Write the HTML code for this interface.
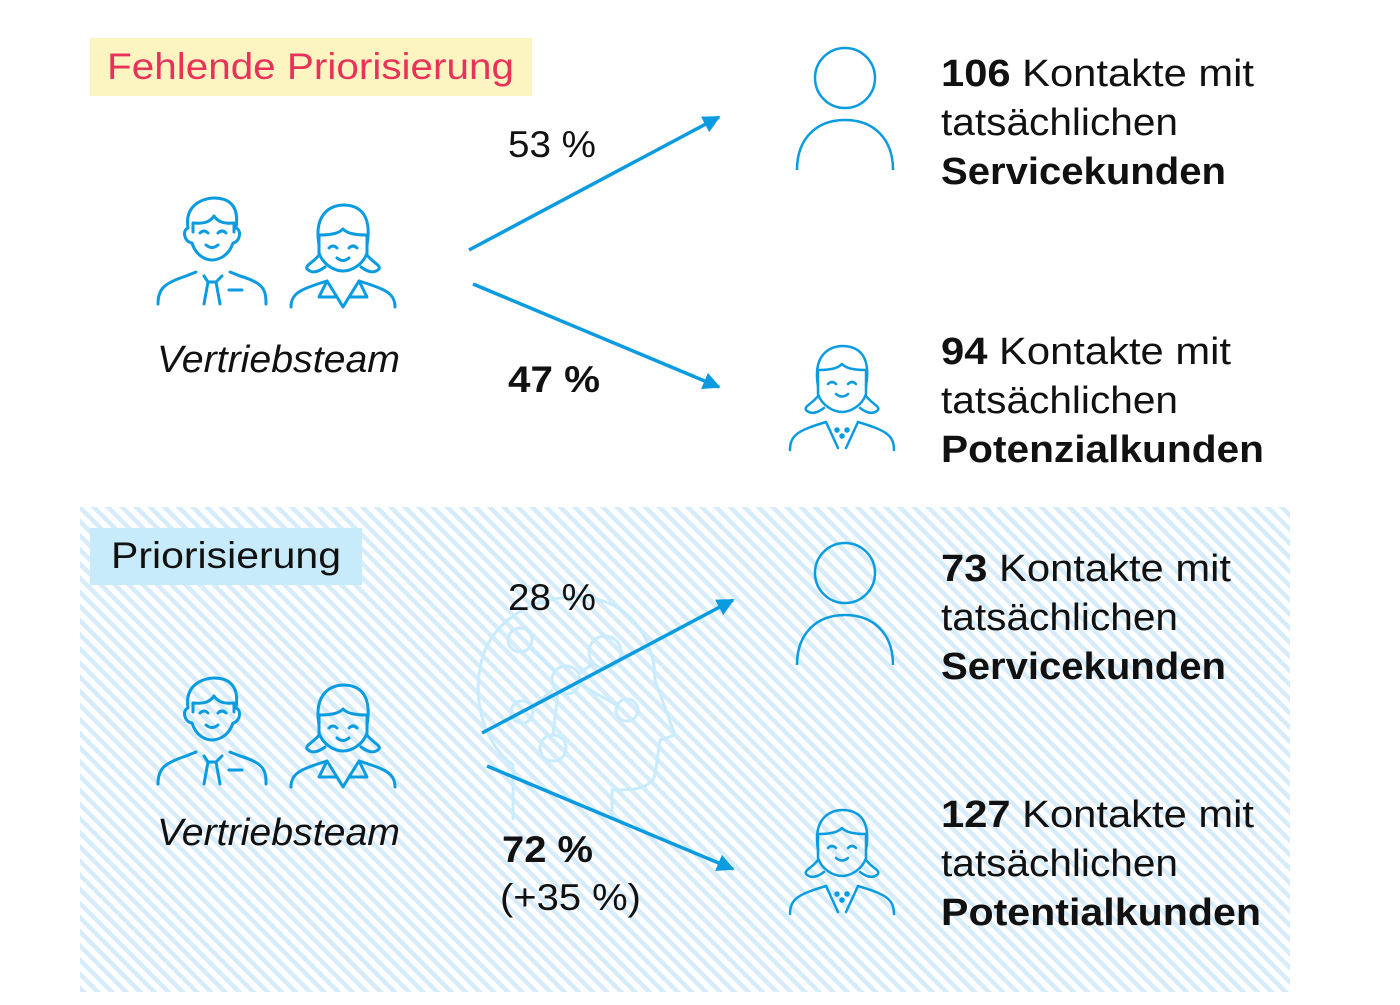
<!DOCTYPE html>
<html><head><meta charset="utf-8"><style>
body{margin:0;width:1400px;height:1000px;background:#fff;overflow:hidden;font-family:"Liberation Sans","DejaVu Sans",sans-serif;}
</style></head><body>
<svg width="1400" height="1000" viewBox="0 0 1400 1000" xmlns="http://www.w3.org/2000/svg">
<defs>
<pattern id="st" width="10" height="10" patternUnits="userSpaceOnUse" patternTransform="rotate(45)">
<rect width="10" height="10" fill="#fff"/><rect width="10" height="4.5" fill="#d6ecfa"/>
</pattern>
<g id="man" fill="none" stroke="#0a9be0" stroke-width="3" stroke-linecap="round" stroke-linejoin="round">
<path d="M12,30 C8,5 30,0 38,0 C50,0 64,5 60,30 C66,32 64,44 57,45 C52,60 40,62 36,62 C30,62 20,58 16,45 C8,44 6,32 12,30Z"/>
<path d="M17,34 L17,25 C28,26 34,24 38,18 C42,24 48,26 58,25 L58,34"/>
<path d="M24,35 q4,-4 8,0 M42,35 q4,-4 8,0 M30,47 q6,5 12,0"/>
<path d="M-18,106 C-18,90 -11,85 10,78 L20,74 M54,74 L64,78 C88,85 90,92 90,106"/>
<path d="M28,78 L32,84 L28,106 M46,78 L40,84 L44,106 M32,84 L40,84 M53,92 L66,92"/>
</g>
<g id="wom" fill="none" stroke="#0a9be0" stroke-width="3" stroke-linecap="round" stroke-linejoin="round">
<path d="M14,40 C8,5 30,0 38,0 C50,0 68,5 62,40"/>
<path d="M14,30 C28,30 34,28 38,24 C42,28 48,30 62,30"/>
<path d="M14,30 L14,48 C18,60 30,66 38,66 C46,66 58,60 62,48 L62,30"/>
<path d="M14,50 C8,58 0,60 2,64 C6,68 12,68 20,62 M62,50 C68,58 76,60 74,64 C70,68 64,68 56,62"/>
<path d="M24,43 q4,-4 8,0 M44,43 q4,-4 8,0 M32,53 q6,5 12,0"/>
<path d="M-14,102 C-14,88 -4,84 22,76 M54,76 C80,84 90,88 90,102"/>
<path d="M22,76 L32,92 L14,92 Z M54,76 L44,92 L62,92 Z M32,92 L38,102 L44,92"/>
</g>
<g id="wom2" fill="none" stroke="#0a9be0" stroke-width="2.5" stroke-linecap="round" stroke-linejoin="round">
<path d="M14,40 C8,5 30,0 38,0 C50,0 68,5 62,40"/>
<path d="M14,24 C28,24 34,22 38,18 C42,22 48,24 62,24"/>
<path d="M14,24 L14,48 C18,60 30,66 38,66 C46,66 58,60 62,48 L62,24"/>
<path d="M14,50 C8,58 0,60 2,64 C6,68 12,68 20,62 M62,50 C68,58 76,60 74,64 C70,68 64,68 56,62"/>
<path d="M24,38 q4,-4 8,0 M44,38 q4,-4 8,0 M32,48 q6,5 12,0"/>
<path d="M-14,104 C-14,88 -4,84 22,76 M54,76 C80,84 90,88 90,104"/>
<path d="M22,76 L34,102 M54,76 L42,102"/>
<circle cx="33" cy="84" r="1.5" fill="#0a9be0"/><circle cx="43" cy="84" r="1.5" fill="#0a9be0"/><circle cx="38" cy="90" r="1.5" fill="#0a9be0"/>
</g>
<g id="per" fill="none" stroke="#0a9be0" stroke-width="2.5">
<circle cx="48" cy="30" r="30"/>
<path d="M0,122 C0,90 20,72 48,72 C76,72 96,90 96,122"/>
</g>
<marker id="ar" viewBox="0 0 10 10" refX="9" refY="5" markerWidth="5" markerHeight="5" orient="auto"><path d="M0,0 L10,5 L0,10 Z" fill="#0a9be0"/></marker>
</defs>

<rect x="80" y="507" width="1210" height="485" fill="url(#st)"/>

<rect x="90" y="38" width="442" height="58" fill="#fcf5c2"/>
<text x="107" y="79" font-size="37" fill="#e8325a" textLength="407" lengthAdjust="spacingAndGlyphs">Fehlende Priorisierung</text>
<rect x="90" y="528" width="272" height="57" fill="#c7ebfb"/>
<text x="111" y="568" font-size="37" fill="#111" textLength="230" lengthAdjust="spacingAndGlyphs">Priorisierung</text>

<use href="#man" x="176" y="198"/>
<use href="#wom" x="305" y="205"/>
<text x="157" y="372" font-size="38" font-style="italic" fill="#111" textLength="243" lengthAdjust="spacingAndGlyphs">Vertriebsteam</text>
<use href="#man" x="176" y="678"/>
<use href="#wom" x="305" y="685"/>
<text x="157" y="845" font-size="38" font-style="italic" fill="#111" textLength="243" lengthAdjust="spacingAndGlyphs">Vertriebsteam</text>

<g fill="none" stroke="#c8ecfd" stroke-width="3">
<path d="M513,820 L513,765 C480,740 470,690 485,650 C505,605 560,590 600,600 C640,612 655,650 655,680 L675,735 L660,740 L655,775 C650,790 630,790 612,790 L612,820"/>
<circle cx="520" cy="640" r="12"/><circle cx="605" cy="652" r="16"/><circle cx="566" cy="680" r="14"/>
<circle cx="522" cy="712" r="11"/><circle cx="627" cy="710" r="11"/><circle cx="553" cy="748" r="13"/>
<path d="M530,648 L556,672 M593,664 L578,674 M580,684 L618,706 M558,692 L553,735 M530,708 L553,690"/>
</g>

<g stroke="#0a9be0" stroke-width="3.5" fill="none">
<line x1="469" y1="250" x2="719" y2="117" marker-end="url(#ar)"/>
<line x1="473" y1="284" x2="719" y2="387" marker-end="url(#ar)"/>
<line x1="482" y1="733" x2="733" y2="600" marker-end="url(#ar)"/>
<line x1="487" y1="766" x2="733" y2="869" marker-end="url(#ar)"/>
</g>

<g font-size="37" fill="#111" lengthAdjust="spacingAndGlyphs">
<text x="508" y="157" textLength="88" lengthAdjust="spacingAndGlyphs">53 %</text>
<text x="508" y="392" font-weight="bold" textLength="92" lengthAdjust="spacingAndGlyphs">47 %</text>
<text x="508" y="610" textLength="88" lengthAdjust="spacingAndGlyphs">28 %</text>
<text x="502" y="862" font-weight="bold" textLength="91" lengthAdjust="spacingAndGlyphs">72 %</text>
<text x="500" y="910" textLength="141" lengthAdjust="spacingAndGlyphs">(+35 %)</text>
</g>

<use href="#per" x="797" y="48"/>
<use href="#wom2" x="804" y="346"/>
<use href="#per" x="797" y="543"/>
<use href="#wom2" x="804" y="810"/>

<g font-size="38" fill="#111">
<text x="941" y="86" textLength="313" lengthAdjust="spacingAndGlyphs"><tspan font-weight="bold">106</tspan> Kontakte mit</text>
<text x="941" y="135" textLength="237" lengthAdjust="spacingAndGlyphs">tatsächlichen</text>
<text x="941" y="184" font-weight="bold" textLength="285" lengthAdjust="spacingAndGlyphs">Servicekunden</text>
<text x="941" y="364" textLength="290" lengthAdjust="spacingAndGlyphs"><tspan font-weight="bold">94</tspan> Kontakte mit</text>
<text x="941" y="413" textLength="237" lengthAdjust="spacingAndGlyphs">tatsächlichen</text>
<text x="941" y="462" font-weight="bold" textLength="323" lengthAdjust="spacingAndGlyphs">Potenzialkunden</text>
<text x="941" y="581" textLength="290" lengthAdjust="spacingAndGlyphs"><tspan font-weight="bold">73</tspan> Kontakte mit</text>
<text x="941" y="630" textLength="237" lengthAdjust="spacingAndGlyphs">tatsächlichen</text>
<text x="941" y="679" font-weight="bold" textLength="285" lengthAdjust="spacingAndGlyphs">Servicekunden</text>
<text x="941" y="827" textLength="313" lengthAdjust="spacingAndGlyphs"><tspan font-weight="bold">127</tspan> Kontakte mit</text>
<text x="941" y="876" textLength="237" lengthAdjust="spacingAndGlyphs">tatsächlichen</text>
<text x="941" y="925" font-weight="bold" textLength="320" lengthAdjust="spacingAndGlyphs">Potentialkunden</text>
</g>
</svg>
</body></html>
